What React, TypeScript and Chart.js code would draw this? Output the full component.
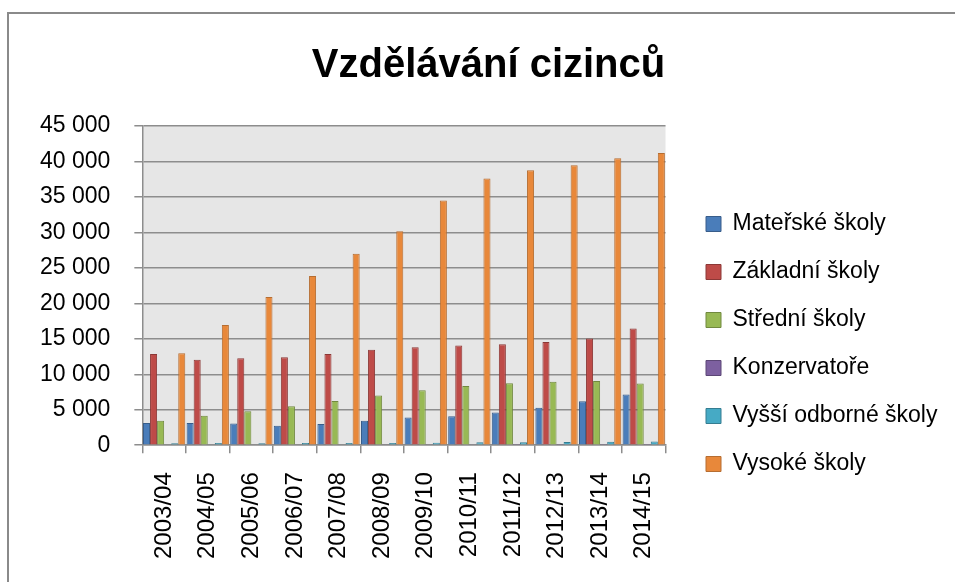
import { useEffect, useRef } from 'react';
import { Chart, registerables } from 'chart.js';

Chart.register(...registerables);

const categories = ['2003/04', '2004/05', '2005/06', '2006/07', '2007/08', '2008/09', '2009/10', '2010/11', '2011/12', '2012/13', '2013/14', '2014/15'];
const seriesNames = ['Mateřské školy', 'Základní školy', 'Střední školy', 'Konzervatoře', 'Vyšší odborné školy', 'Vysoké školy'];
const materske = [3150, 3150, 3050, 2750, 3000, 3450, 3900, 4100, 4600, 5300, 6200, 7150];
const zakladni = [12850, 12050, 12250, 12400, 12850, 13450, 13800, 14050, 14250, 14550, 15050, 16450];
const stredni = [3450, 4150, 4800, 5500, 6250, 7000, 7750, 8350, 8750, 8950, 9050, 8700];
const konzervatore = [90, 100, 110, 110, 120, 130, 140, 150, 160, 170, 180, 190];
const vyssiOdborne = [280, 300, 280, 320, 300, 330, 360, 420, 420, 470, 480, 520];
const vysoke = [12950, 16950, 20900, 23850, 27000, 30150, 34500, 37600, 38750, 39450, 40450, 41200];
const yMin = 0;
const yMax = 45000;
const yStep = 5000;
const chartTitle = 'Vzdělávání cizinců';

const fills = ['#4A7DBA', '#BE4B48', '#98B954', '#7D60A0', '#46AAC5', '#E8883A'];
const borders = ['#385D8A', '#8C3836', '#71893F', '#5C4776', '#357D91', '#B66D31'];

const FONT = "'Liberation Sans', Arial, sans-serif";
const GRID = '#8d8d8d';

function fmt(v: number): string {
  return Math.round(v).toString().replace(/\B(?=(\d{3})+(?!\d))/g, ' ');
}

export default function App() {
  const ref = useRef<HTMLCanvasElement>(null);

  useEffect(() => {
    document.body.style.margin = '0';
    document.body.style.overflow = 'hidden';
    const canvas = ref.current;
    if (!canvas) return;

    const plotBg = {
      id: 'plotBg',
      beforeDraw(chart: any) {
        const { ctx, chartArea: a } = chart;
        ctx.save();
        ctx.fillStyle = '#E6E6E6';
        ctx.fillRect(a.left, a.top, a.right - a.left, a.bottom - a.top);
        ctx.restore();
      },
    };
    const legendPlace = {
      id: 'legendPlace',
      afterLayout(chart: any) {
        const l = chart.legend;
        if (!l) return;
        const dy = 344 - (l.top + l.bottom) / 2;
        l.top += dy;
        l.bottom += dy;
        const dx = 681 - l.left;
        l.left += dx;
        l.right += dx;
      },
    };

    const allSeries = [materske, zakladni, stredni, konzervatore, vyssiOdborne, vysoke];

    const chart = new Chart(canvas, {
      type: 'bar',
      data: {
        labels: categories,
        datasets: allSeries.map((d, i) => ({
          label: seriesNames[i],
          data: d,
          backgroundColor: fills[i],
          borderColor: borders[i],
          borderWidth: 1,
          categoryPercentage: 0.97,
          barPercentage: 1,
        })),
      },
      options: {
        responsive: false,
        animation: false,
        layout: { padding: { left: 16, right: 0, top: 0, bottom: 4 } },
        plugins: {
          title: {
            display: true,
            text: chartTitle,
            color: '#000',
            font: { family: FONT, size: 40, weight: 'bold' },
            padding: { top: 42, bottom: 36 },
          },
          legend: {
            position: 'right',
            align: 'center',
            maxWidth: 320,
            labels: {
              color: '#000',
              font: { family: FONT, size: 23 },
              boxWidth: 15,
              boxHeight: 15,
              padding: 25,
            },
          },
          tooltip: { enabled: false },
        },
        scales: {
          x: {
            grid: { display: true, drawOnChartArea: false, drawTicks: true, tickLength: 8, color: GRID, lineWidth: 1.5, offset: true },
            border: { display: true, color: GRID, width: 1.5 },
            ticks: { color: '#000', font: { family: FONT, size: 24 }, minRotation: 90, maxRotation: 90, padding: 19, autoSkip: false },
          },
          y: {
            min: yMin,
            max: yMax,
            grid: { color: GRID, lineWidth: 1.5, tickLength: 8 },
            border: { display: true, color: GRID, width: 1.5 },
            ticks: { color: '#000', font: { family: FONT, size: 23 }, stepSize: yStep, padding: 24, callback: (v: any) => fmt(Number(v)) },
          },
          yR: {
            position: 'right',
            display: true,
            grid: { display: false },
            border: { display: false },
            ticks: { display: false },
            afterFit: (s: any) => { s.width = 29; },
          },
        },
      },
      plugins: [plotBg, legendPlace],
    } as any);

    return () => chart.destroy();
  }, []);

  return (
    <div style={{ position: 'relative', width: 955, height: 582, overflow: 'hidden' }}>
      <div style={{ position: 'absolute', left: 7, top: 12, width: 1000, height: 700, border: '2px solid #8a8a8a', boxSizing: 'border-box' }} />
      <canvas ref={ref} width={961} height={582} style={{ position: 'absolute', left: 0, top: 0 }} />
    </div>
  );
}
